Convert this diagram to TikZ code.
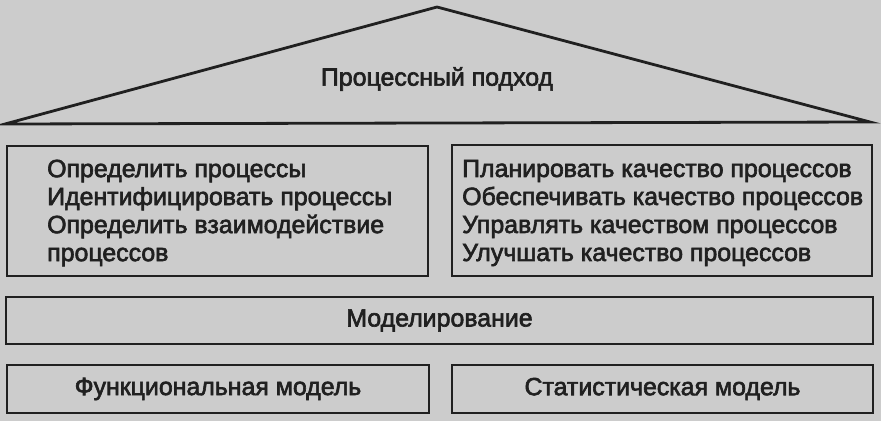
\documentclass[tikz,border=0pt]{standalone}
\usepackage{fontspec}
\setmainfont{Liberation Sans}[FakeBold=2.5]
\definecolor{bg}{RGB}{204,204,204}
\definecolor{ink}{RGB}{32,32,32}
\begin{document}
\begin{tikzpicture}[x=1pt,y=-1pt,
  box/.style={draw=ink, line width=2.8pt, inner sep=0pt},
  txt/.style={text=ink, font=\fontsize{24.9}{28}\selectfont, inner sep=0pt, align=left}]
\fill[bg] (0,0) rectangle (881,421);
\useasboundingbox (0,0) rectangle (881,421);
% roof
\coordinate (apex) at (437,7);
\coordinate (bl) at (5,124);
\coordinate (br) at (870,122);
\draw[draw=ink, line width=2.8pt, line join=miter] (bl) -- (apex) -- (br) -- cycle;
\node[txt] (title) at (437,79) {Процессный подход};
% upper boxes
\node[box, minimum width=421pt, minimum height=130pt] (left) at (217.5,211) {};
\node[box, minimum width=420pt, minimum height=131pt] (right) at (662,210.5) {};
\node[txt, anchor=west] (lefttxt) at (47,213) {Определить процессы\\Идентифицировать процессы\\Определить взаимодействие\\процессов};
\node[txt, anchor=west] (righttxt) at (462,213) {Планировать качество процессов\\Обеспечивать качество процессов\\Управлять качеством процессов\\Улучшать качество процессов};
% modelling
\node[box, minimum width=867pt, minimum height=47pt] (model) at (439.5,320.5) {};
\node[txt] (modeltxt) at (model.center) {Моделирование};
% bottom boxes
\node[box, minimum width=422pt, minimum height=48pt] (func) at (218,389) {};
\node[txt] (functxt) at (func.center) {Функциональная модель};
\node[box, minimum width=421pt, minimum height=48pt] (stat) at (662.5,389) {};
\node[txt] (stattxt) at (stat.center) {Статистическая модель};
\end{tikzpicture}
\end{document}
